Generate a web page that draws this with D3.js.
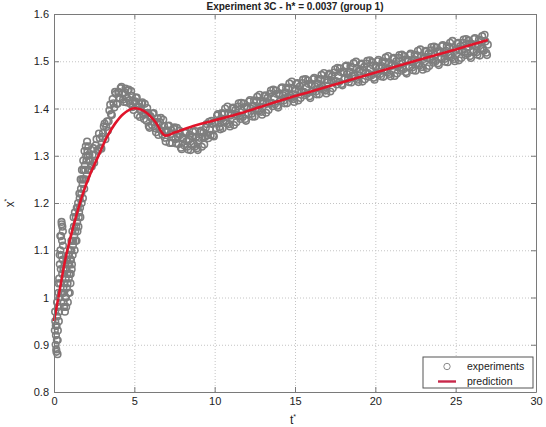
<!DOCTYPE html>
<html>
<head>
<meta charset="utf-8">
<script src="https://cdn.jsdelivr.net/npm/d3@7"></script>
<style>
  body { margin: 0; background: #fff; }
  svg { font-family: "Liberation Sans", Arial, sans-serif; }
  .grid line { stroke: #c4c4c4; stroke-dasharray: 1,2; }
  .grid path { display: none; }
  .axis path, .axis line { stroke: #7a7a7a; }
  .axis text { fill: #222; font-size: 11px; }
</style>
</head>
<body>
<div id="chart"></div>
<script>
// chart size
var svgWidth = 546;
var svgHeight = 427;
var margin = { top: 14, right: 10, bottom: 35, left: 54 };
var width = svgWidth - margin.left - margin.right;
var height = svgHeight - margin.top - margin.bottom;

// tick values
var xTicks = [0, 5, 10, 15, 20, 25, 30];
var yTicks = [0.8, 0.9, 1, 1.1, 1.2, 1.3, 1.4, 1.5, 1.6];

// model prediction (red line)
var predTime = [0, 0.3, 0.7, 1.2, 1.8, 2.3, 2.7, 3.3, 3.8, 4.3, 4.9, 5.4, 5.8, 6.3, 6.9,
  7.5, 8.5, 10, 11.6, 14, 16, 19, 22.4, 25, 27];
var predValue = [0.95, 1.005, 1.08, 1.15, 1.22, 1.265, 1.295, 1.34, 1.368, 1.388, 1.40, 1.398, 1.39, 1.372, 1.343,
  1.349, 1.361, 1.375, 1.39, 1.416, 1.436, 1.466, 1.50, 1.525, 1.545];

// experiment samples (grey circles)
var expTime = [
  // start-up scatter
  0.05, 0.08, 0.10, 0.12, 0.14, 0.16, 0.18, 0.20, 0.22, 0.24, 0.26, 0.28, 0.30, 0.32, 0.34, 0.36,
  0.38, 0.40, 0.42, 0.44, 0.46, 0.48, 0.50, 0.52, 0.54, 0.56, 0.58, 0.60,
  0.62, 0.65, 0.68, 0.71, 0.74, 0.77, 0.80, 0.83, 0.86, 0.89, 0.92, 0.95, 0.98, 1.01, 1.04, 1.07, 1.10, 1.13, 1.16,
  1.20, 1.24, 1.28, 1.32, 1.36, 1.40, 1.44, 1.48, 1.52, 1.56, 1.60, 1.64, 1.68, 1.72, 1.76, 1.80, 1.84, 1.88,
  1.92, 1.96, 2.00, 2.04, 2.08, 2.12, 2.16,
  0.07, 0.11, 0.15, 0.19, 0.23, 0.27, 0.31, 0.35, 0.39, 0.43, 0.47, 0.51, 0.55, 0.59,
  0.635, 0.665, 0.695, 0.725, 0.755, 0.785, 0.815, 0.845, 0.875, 0.905, 0.935, 0.965, 0.995, 1.025, 1.055, 1.085, 1.115, 1.145, 1.175,
  1.22, 1.26, 1.30, 1.34, 1.38, 1.42, 1.46, 1.50, 1.54, 1.58, 1.62, 1.66, 1.70, 1.74, 1.78, 1.82, 1.86, 1.90,
  1.94, 1.98, 2.02, 2.06, 2.10, 2.14, 2.18,
  // overshoot and dip
  2.2, 2.3, 2.4, 2.5, 2.6, 2.7, 2.8, 2.9, 3.0, 3.1, 3.2, 3.3, 3.4, 3.5, 3.6, 3.7, 3.8, 3.9,
  4.0, 4.1, 4.2, 4.3, 4.4, 4.5, 4.6, 4.7, 4.8, 4.9, 5.0, 5.1, 5.2, 5.3, 5.4, 5.5, 5.6, 5.7, 5.8, 5.9,
  6.0, 6.1, 6.2, 6.3, 6.4, 6.5, 6.6, 6.7, 6.8, 6.9, 7.0, 7.1, 7.2, 7.3, 7.4, 7.5, 7.6, 7.7, 7.8, 7.9,
  8.0, 8.1, 8.2, 8.3, 8.4, 8.5, 8.6, 8.7, 8.8, 8.9, 9.0, 9.1, 9.2, 9.3, 9.4, 9.5, 9.6, 9.7, 9.8, 9.9,
  // slow rise
  10.0, 10.1, 10.2, 10.3, 10.4, 10.5, 10.6, 10.7, 10.8, 10.9, 11.0, 11.1, 11.2, 11.3, 11.4, 11.5, 11.6, 11.7, 11.8, 11.9,
  12.0, 12.1, 12.2, 12.3, 12.4, 12.5, 12.6, 12.7, 12.8, 12.9, 13.0, 13.1, 13.2, 13.3, 13.4, 13.5, 13.6, 13.7, 13.8, 13.9,
  14.0, 14.1, 14.2, 14.3, 14.4, 14.5, 14.6, 14.7, 14.8, 14.9, 15.0, 15.1, 15.2, 15.3, 15.4, 15.5, 15.6, 15.7, 15.8, 15.9,
  16.0, 16.1, 16.2, 16.3, 16.4, 16.5, 16.6, 16.7, 16.8, 16.9, 17.0, 17.1, 17.2, 17.3, 17.4, 17.5, 17.6, 17.7, 17.8, 17.9,
  18.0, 18.1, 18.2, 18.3, 18.4, 18.5, 18.6, 18.7, 18.8, 18.9, 19.0, 19.1, 19.2, 19.3, 19.4, 19.5, 19.6, 19.7, 19.8, 19.9,
  20.0, 20.1, 20.2, 20.3, 20.4, 20.5, 20.6, 20.7, 20.8, 20.9, 21.0, 21.1, 21.2, 21.3, 21.4, 21.5, 21.6, 21.7, 21.8, 21.9,
  22.0, 22.1, 22.2, 22.3, 22.4, 22.5, 22.6, 22.7, 22.8, 22.9, 23.0, 23.1, 23.2, 23.3, 23.4, 23.5, 23.6, 23.7, 23.8, 23.9,
  24.0, 24.1, 24.2, 24.3, 24.4, 24.5, 24.6, 24.7, 24.8, 24.9, 25.0, 25.1, 25.2, 25.3, 25.4, 25.5, 25.6, 25.7, 25.8, 25.9,
  26.0, 26.1, 26.2, 26.3, 26.4, 26.5, 26.6, 26.7, 26.8, 26.9, 27.0,
  // in-between samples
  2.25, 2.35, 2.45, 2.55, 2.65, 2.75, 2.85, 2.95, 3.05, 3.15, 3.25, 3.35, 3.45, 3.55, 3.65, 3.75, 3.85, 3.95,
  4.05, 4.15, 4.25, 4.35, 4.45, 4.55, 4.65, 4.75, 4.85, 4.95, 5.05, 5.15, 5.25, 5.35, 5.45, 5.55, 5.65, 5.75, 5.85, 5.95,
  6.05, 6.15, 6.25, 6.35, 6.45, 6.55, 6.65, 6.75, 6.85, 6.95, 7.05, 7.15, 7.25, 7.35, 7.45, 7.55, 7.65, 7.75, 7.85, 7.95,
  8.05, 8.15, 8.25, 8.35, 8.45, 8.55, 8.65, 8.75, 8.85, 8.95, 9.05, 9.15, 9.25, 9.35, 9.45, 9.55, 9.65, 9.75, 9.85, 9.95,
  10.05, 10.15, 10.25, 10.35, 10.45, 10.55, 10.65, 10.75, 10.85, 10.95, 11.05, 11.15, 11.25, 11.35, 11.45, 11.55, 11.65, 11.75, 11.85, 11.95,
  12.05, 12.15, 12.25, 12.35, 12.45, 12.55, 12.65, 12.75, 12.85, 12.95, 13.05, 13.15, 13.25, 13.35, 13.45, 13.55, 13.65, 13.75, 13.85, 13.95,
  14.05, 14.15, 14.25, 14.35, 14.45, 14.55, 14.65, 14.75, 14.85, 14.95, 15.05, 15.15, 15.25, 15.35, 15.45, 15.55, 15.65, 15.75, 15.85, 15.95,
  16.05, 16.15, 16.25, 16.35, 16.45, 16.55, 16.65, 16.75, 16.85, 16.95, 17.05, 17.15, 17.25, 17.35, 17.45, 17.55, 17.65, 17.75, 17.85, 17.95,
  18.05, 18.15, 18.25, 18.35, 18.45, 18.55, 18.65, 18.75, 18.85, 18.95, 19.05, 19.15, 19.25, 19.35, 19.45, 19.55, 19.65, 19.75, 19.85, 19.95,
  20.05, 20.15, 20.25, 20.35, 20.45, 20.55, 20.65, 20.75, 20.85, 20.95, 21.05, 21.15, 21.25, 21.35, 21.45, 21.55, 21.65, 21.75, 21.85, 21.95,
  22.05, 22.15, 22.25, 22.35, 22.45, 22.55, 22.65, 22.75, 22.85, 22.95, 23.05, 23.15, 23.25, 23.35, 23.45, 23.55, 23.65, 23.75, 23.85, 23.95,
  24.05, 24.15, 24.25, 24.35, 24.45, 24.55, 24.65, 24.75, 24.85, 24.95, 25.05, 25.15, 25.25, 25.35, 25.45, 25.55, 25.65, 25.75, 25.85, 25.95,
  26.05, 26.15, 26.25, 26.35, 26.45, 26.55, 26.65, 26.75, 26.85, 26.95
];
var expValue = [
  0.93, 0.95, 0.90, 0.92, 0.89, 0.94, 0.91, 0.96, 0.88, 0.93, 0.98, 1.01, 0.95, 1.04, 1.00, 1.07,
  1.03, 1.10, 1.06, 1.13, 1.09, 1.155, 1.12, 1.15, 1.08, 1.11, 1.02, 0.99,
  0.98, 1.03, 0.97, 1.06, 1.00, 1.08, 1.02, 1.05, 0.99, 1.09, 1.04, 1.07, 1.01, 1.08, 1.05, 1.10, 1.06, 1.12, 1.09,
  1.12, 1.15, 1.10, 1.14, 1.17, 1.12, 1.16, 1.19, 1.15, 1.18, 1.21, 1.17, 1.23, 1.20, 1.25, 1.21, 1.27, 1.23,
  1.28, 1.25, 1.30, 1.26, 1.31, 1.27, 1.29,
  0.97, 0.94, 0.885, 0.99, 0.91, 1.03, 0.97, 1.09, 1.13, 1.01, 1.16, 1.05, 1.14, 1.06,
  1.01, 1.07, 1.00, 1.04, 0.98, 1.06, 1.08, 1.03, 1.07, 1.01, 1.09, 1.05, 1.10, 1.03, 1.08, 1.12, 1.07, 1.14, 1.11,
  1.17, 1.13, 1.18, 1.12, 1.15, 1.19, 1.14, 1.20, 1.17, 1.22, 1.19, 1.25, 1.22, 1.27, 1.24, 1.29, 1.25, 1.31,
  1.27, 1.32, 1.29, 1.33, 1.30, 1.32, 1.27,
  1.303, 1.280, 1.302, 1.285, 1.322, 1.312, 1.347, 1.317, 1.340, 1.362, 1.335, 1.373, 1.373, 1.408, 1.386, 1.411, 1.435, 1.410,
  1.435, 1.421, 1.446, 1.419, 1.434, 1.413, 1.438, 1.418, 1.437, 1.403, 1.413, 1.423, 1.386, 1.410, 1.395, 1.413, 1.378, 1.390, 1.401, 1.363,
  1.384, 1.365, 1.390, 1.358, 1.371, 1.344, 1.371, 1.353, 1.376, 1.338, 1.351, 1.363, 1.327, 1.354, 1.340, 1.360, 1.326, 1.340, 1.353, 1.317,
  1.339, 1.322, 1.350, 1.319, 1.335, 1.312, 1.341, 1.325, 1.352, 1.316, 1.333, 1.350, 1.319, 1.349, 1.340, 1.367, 1.337, 1.356, 1.374, 1.343,
  1.371, 1.358, 1.388, 1.361, 1.379, 1.358, 1.389, 1.374, 1.404, 1.367, 1.385, 1.400, 1.365, 1.397, 1.386, 1.411, 1.378, 1.395, 1.411, 1.378,
  1.403, 1.388, 1.418, 1.389, 1.406, 1.383, 1.415, 1.400, 1.429, 1.393, 1.410, 1.426, 1.391, 1.423, 1.412, 1.438, 1.405, 1.423, 1.438, 1.406,
  1.431, 1.416, 1.445, 1.417, 1.434, 1.411, 1.442, 1.427, 1.457, 1.420, 1.437, 1.452, 1.417, 1.447, 1.436, 1.461, 1.428, 1.445, 1.459, 1.426,
  1.451, 1.436, 1.465, 1.436, 1.453, 1.430, 1.461, 1.446, 1.475, 1.438, 1.455, 1.471, 1.436, 1.468, 1.458, 1.483, 1.451, 1.469, 1.485, 1.452,
  1.478, 1.463, 1.491, 1.462, 1.478, 1.455, 1.486, 1.470, 1.499, 1.461, 1.478, 1.493, 1.457, 1.488, 1.476, 1.501, 1.467, 1.484, 1.498, 1.465,
  1.489, 1.474, 1.503, 1.473, 1.490, 1.467, 1.497, 1.482, 1.511, 1.473, 1.490, 1.505, 1.469, 1.500, 1.488, 1.513, 1.480, 1.496, 1.511, 1.477,
  1.502, 1.487, 1.516, 1.487, 1.504, 1.480, 1.511, 1.496, 1.525, 1.488, 1.505, 1.520, 1.485, 1.516, 1.505, 1.530, 1.497, 1.514, 1.529, 1.496,
  1.521, 1.506, 1.534, 1.505, 1.522, 1.498, 1.529, 1.514, 1.543, 1.505, 1.522, 1.537, 1.502, 1.532, 1.521, 1.546, 1.513, 1.530, 1.544, 1.511,
  1.536, 1.520, 1.549, 1.519, 1.536, 1.512, 1.543, 1.527, 1.556, 1.518, 1.535,
  1.288, 1.277, 1.316, 1.302, 1.335, 1.310, 1.337, 1.315, 1.348, 1.368, 1.361, 1.353, 1.396, 1.388, 1.420, 1.402, 1.431, 1.410,
  1.434, 1.443, 1.431, 1.414, 1.442, 1.422, 1.440, 1.410, 1.427, 1.397, 1.415, 1.423, 1.404, 1.382, 1.411, 1.387, 1.410, 1.374, 1.391, 1.359,
  1.380, 1.389, 1.371, 1.350, 1.379, 1.356, 1.380, 1.345, 1.363, 1.330, 1.354, 1.364, 1.346, 1.327, 1.357, 1.335, 1.359, 1.325, 1.344, 1.314,
  1.336, 1.348, 1.331, 1.313, 1.344, 1.324, 1.351, 1.319, 1.340, 1.312, 1.338, 1.353, 1.340, 1.324, 1.359, 1.343, 1.372, 1.344, 1.367, 1.341,
  1.370, 1.385, 1.371, 1.356, 1.390, 1.372, 1.400, 1.369, 1.390, 1.362, 1.389, 1.402, 1.388, 1.371, 1.404, 1.385, 1.412, 1.382, 1.403, 1.374,
  1.401, 1.415, 1.400, 1.383, 1.417, 1.398, 1.425, 1.395, 1.416, 1.387, 1.415, 1.428, 1.414, 1.397, 1.431, 1.412, 1.440, 1.409, 1.431, 1.402,
  1.429, 1.443, 1.428, 1.411, 1.444, 1.425, 1.453, 1.422, 1.443, 1.414, 1.441, 1.454, 1.439, 1.422, 1.454, 1.435, 1.462, 1.431, 1.452, 1.422,
  1.449, 1.462, 1.447, 1.430, 1.463, 1.444, 1.471, 1.440, 1.461, 1.432, 1.460, 1.474, 1.459, 1.443, 1.476, 1.458, 1.486, 1.456, 1.477, 1.449,
  1.476, 1.489, 1.473, 1.456, 1.489, 1.469, 1.496, 1.464, 1.485, 1.456, 1.482, 1.495, 1.480, 1.462, 1.495, 1.475, 1.502, 1.470, 1.491, 1.461,
  1.488, 1.500, 1.485, 1.468, 1.500, 1.481, 1.508, 1.476, 1.497, 1.468, 1.494, 1.507, 1.491, 1.474, 1.507, 1.487, 1.514, 1.483, 1.503, 1.474,
  1.501, 1.513, 1.498, 1.481, 1.514, 1.495, 1.522, 1.491, 1.511, 1.482, 1.509, 1.522, 1.507, 1.490, 1.523, 1.504, 1.531, 1.500, 1.521, 1.492,
  1.519, 1.532, 1.516, 1.499, 1.532, 1.513, 1.539, 1.508, 1.529, 1.500, 1.526, 1.539, 1.524, 1.507, 1.539, 1.520, 1.547, 1.516, 1.537, 1.507,
  1.534, 1.547, 1.531, 1.514, 1.546, 1.527, 1.553, 1.522, 1.542, 1.513
];

var svg = d3.select("#chart")
  .append("svg")
  .attr("width", svgWidth)
  .attr("height", svgHeight);

var chartGroup = svg.append("g")
  .attr("transform", `translate(${margin.left}, ${margin.top})`);

var xScale = d3.scaleLinear().domain([0, 30]).range([0, width]);
var yScale = d3.scaleLinear().domain([0.8, 1.6]).range([height, 0]);

// dotted grid
chartGroup.append("g")
  .attr("class", "grid")
  .attr("transform", `translate(0, ${height})`)
  .call(d3.axisBottom(xScale).tickValues(xTicks).tickSize(-height).tickFormat(""));

chartGroup.append("g")
  .attr("class", "grid")
  .call(d3.axisLeft(yScale).tickValues(yTicks).tickSize(-width).tickFormat(""));

// experiments
chartGroup.append("g")
  .selectAll("circle")
  .data(expTime)
  .enter()
  .append("circle")
  .attr("cx", d => xScale(d))
  .attr("cy", (d, i) => yScale(expValue[i]))
  .attr("r", 3.3)
  .attr("fill", "none")
  .attr("stroke", "#7e7e7e")
  .attr("stroke-width", 1.6);

// prediction
var line = d3.line()
  .x(d => xScale(d))
  .y((d, i) => yScale(predValue[i]))
  .curve(d3.curveCatmullRom.alpha(0.5));

chartGroup.append("path")
  .datum(predTime)
  .attr("d", line)
  .attr("fill", "none")
  .attr("stroke", "#e0142a")
  .attr("stroke-width", 2.6);

// axes with inward ticks on all four sides
chartGroup.append("g")
  .attr("class", "axis")
  .attr("transform", `translate(0, ${height})`)
  .call(d3.axisBottom(xScale).tickValues(xTicks).tickSizeInner(-5).tickSizeOuter(0).tickPadding(5).tickFormat(d3.format("d")));

chartGroup.append("g")
  .attr("class", "axis")
  .call(d3.axisTop(xScale).tickValues(xTicks).tickSizeInner(-5).tickSizeOuter(0).tickFormat(""));

chartGroup.append("g")
  .attr("class", "axis")
  .call(d3.axisLeft(yScale).tickValues(yTicks).tickSizeInner(-5).tickSizeOuter(0).tickPadding(5).tickFormat(d => d3.format("")(+d.toFixed(1))));

chartGroup.append("g")
  .attr("class", "axis")
  .attr("transform", `translate(${width}, 0)`)
  .call(d3.axisRight(yScale).tickValues(yTicks).tickSizeInner(-5).tickSizeOuter(0).tickFormat(""));

// title just above the frame
svg.append("text")
  .attr("x", margin.left + width / 2)
  .attr("y", 10)
  .attr("text-anchor", "middle")
  .attr("font-size", "10px")
  .attr("font-weight", "bold")
  .attr("fill", "#222")
  .text("Experiment 3C - h* = 0.0037 (group 1)");

// axis labels
var xLabel = svg.append("text")
  .attr("x", margin.left + width / 2 - 2)
  .attr("y", 424)
  .attr("text-anchor", "middle")
  .attr("font-size", "12px")
  .attr("fill", "#222");
xLabel.append("tspan").text("t");
xLabel.append("tspan").attr("dy", -5).attr("font-size", "7px").text("*");

var yLabel = svg.append("text")
  .attr("transform", `translate(14, ${margin.top + height / 2}) rotate(-90)`)
  .attr("text-anchor", "middle")
  .attr("font-size", "12px")
  .attr("fill", "#222");
yLabel.append("tspan").text("x");
yLabel.append("tspan").attr("dy", -5).attr("font-size", "7px").text("*");

// legend
var legend = svg.append("g")
  .attr("transform", "translate(423, 357)");

legend.append("rect")
  .attr("width", 110)
  .attr("height", 31)
  .attr("fill", "#fff")
  .attr("stroke", "#555");

legend.append("circle")
  .attr("cx", 24)
  .attr("cy", 9.5)
  .attr("r", 3.2)
  .attr("fill", "none")
  .attr("stroke", "#8a8a8a");

legend.append("line")
  .attr("x1", 15).attr("x2", 33)
  .attr("y1", 24.5).attr("y2", 24.5)
  .attr("stroke", "#c8284a")
  .attr("stroke-width", 2.4);

legend.append("text")
  .attr("x", 44).attr("y", 13)
  .attr("font-size", "10.5px")
  .attr("fill", "#222")
  .text("experiments");

legend.append("text")
  .attr("x", 44).attr("y", 28)
  .attr("font-size", "10.5px")
  .attr("fill", "#222")
  .text("prediction");
</script>
</body>
</html>
